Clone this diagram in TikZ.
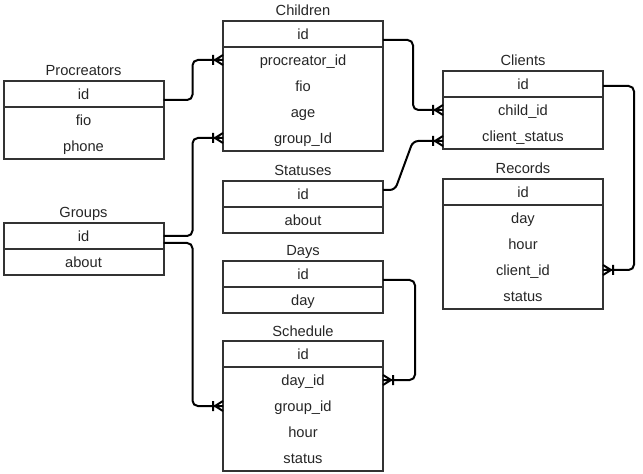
\documentclass[tikz,border=0pt]{standalone}
\usepackage{fontspec}
\setmainfont{Liberation Sans}
\usepackage{tikz}
\usetikzlibrary{arrows.meta,positioning,calc}

% one-or-many end (crow's foot with a bar)
\pgfdeclarearrow{
  name = Crow,
  parameters = {\the\pgfarrowlinewidth},
  setup code = {
    \pgfarrowssettipend{0pt}
    \pgfarrowssetbackend{-7.5pt}
    \pgfarrowssetlineend{-7.5pt}
    \pgfarrowssetvisualbackend{-7.5pt}
    \pgfarrowshullpoint{0pt}{3.75pt}
    \pgfarrowshullpoint{0pt}{-3.75pt}
    \pgfarrowshullpoint{-7.5pt}{3.75pt}
    \pgfarrowshullpoint{-7.5pt}{-3.75pt}
  },
  drawing code = {
    \pgfsetdash{}{0pt}
    \pgfpathmoveto{\pgfqpoint{-7.5pt}{0pt}}
    \pgfpathlineto{\pgfqpoint{0pt}{0pt}}
    \pgfpathmoveto{\pgfqpoint{0pt}{3.75pt}}
    \pgfpathlineto{\pgfqpoint{-6pt}{0pt}}
    \pgfpathlineto{\pgfqpoint{0pt}{-3.75pt}}
    \pgfpathmoveto{\pgfqpoint{-7.5pt}{3.75pt}}
    \pgfpathlineto{\pgfqpoint{-7.5pt}{-3.75pt}}
    \pgfusepathqstroke
  }
}

\definecolor{edge}{HTML}{333333}

\begin{document}
\begin{tikzpicture}[
    x=0.75pt, y=-0.75pt,
    font=\fontsize{11}{13}\selectfont, text=black!85,
    head/.style={draw=edge, line width=1.5pt, minimum width=120pt, minimum height=19.5pt,
      inner sep=0pt, outer sep=0pt, text height=8.5pt, text depth=0pt},
    row/.style={minimum width=120pt, minimum height=19.5pt, inner sep=0pt, outer sep=0pt,
      text height=8.5pt, text depth=0pt},
    tbox/.style={draw=edge, line width=1.5pt},
    title/.style={anchor=base, inner sep=0pt},
    rel/.style={draw=black, line width=1.5pt, rounded corners=4pt, -{Crow}}
  ]
    \useasboundingbox (0,0) rectangle (643,474);

    % Procreators
    \node[head] (proc) at (83.5,94) {id};
    \node[title] (procT) at ([yshift=3.75pt]proc.north) {Procreators};
    \node[row, below=0pt of proc] (proc1) {fio};
    \node[row, below=0pt of proc1] (proc2) {phone};
    \draw[tbox] (proc1.north west) rectangle (proc2.south east);

    % Groups
    \node[head] (grp) at (83.5,236) {id};
    \node[title] (grpT) at ([yshift=3.75pt]grp.north) {Groups};
    \node[row, below=0pt of grp] (grp1) {about};
    \draw[tbox] (grp1.north west) rectangle (grp1.south east);

    % Children
    \node[head] (child) at (303,34) {id};
    \node[title] (childT) at ([yshift=3.75pt]child.north) {Children};
    \node[row, below=0pt of child] (child1) {procreator\_id};
    \node[row, below=0pt of child1] (child2) {fio};
    \node[row, below=0pt of child2] (child3) {age};
    \node[row, below=0pt of child3] (child4) {group\_Id};
    \draw[tbox] (child1.north west) rectangle (child4.south east);

    % Statuses
    \node[head] (stat) at (303,194) {id};
    \node[title] (statT) at ([yshift=3.75pt]stat.north) {Statuses};
    \node[row, below=0pt of stat] (stat1) {about};
    \draw[tbox] (stat1.north west) rectangle (stat1.south east);

    % Days
    \node[head] (day) at (303,274) {id};
    \node[title] (dayT) at ([yshift=3.75pt]day.north) {Days};
    \node[row, below=0pt of day] (day1) {day};
    \draw[tbox] (day1.north west) rectangle (day1.south east);

    % Schedule
    \node[head] (sched) at (303,354) {id};
    \node[title] (schedT) at ([yshift=3.75pt]sched.north) {Schedule};
    \node[row, below=0pt of sched] (sched1) {day\_id};
    \node[row, below=0pt of sched1] (sched2) {group\_id};
    \node[row, below=0pt of sched2] (sched3) {hour};
    \node[row, below=0pt of sched3] (sched4) {status};
    \draw[tbox] (sched1.north west) rectangle (sched4.south east);

    % Clients
    \node[head] (cli) at (523,84) {id};
    \node[title] (cliT) at ([yshift=3.75pt]cli.north) {Clients};
    \node[row, below=0pt of cli] (cli1) {child\_id};
    \node[row, below=0pt of cli1] (cli2) {client\_status};
    \draw[tbox] (cli1.north west) rectangle (cli2.south east);

    % Records
    \node[head] (rec) at (523,192) {id};
    \node[title] (recT) at ([yshift=3.75pt]rec.north) {Records};
    \node[row, below=0pt of rec] (rec1) {day};
    \node[row, below=0pt of rec1] (rec2) {hour};
    \node[row, below=0pt of rec2] (rec3) {client\_id};
    \node[row, below=0pt of rec3] (rec4) {status};
    \draw[tbox] (rec1.north west) rectangle (rec4.south east);

    % relations
    \draw[rel] ([yshift=-4.5pt]proc.east) -- ++(29,0) |- (child1.west);
    \draw[rel] (grp.east) -- ++(29,0) |- (child4.west);
    \draw[rel] ([yshift=-5.25pt]grp.east) -- ++(29,0) |- (sched2.west);
    \draw[rel] ([yshift=-4.5pt]day.east) -- ++(32,0) |- (sched1.east);
    \draw[rel] ([yshift=-4.5pt]child.east) -- ++(30,0) |- (cli1.west);
    \draw[rel] ([yshift=3pt]stat.east) -- ++(12,0)
      -- ([xshift=-22.5pt,yshift=-3.75pt]cli2.west) -- ([yshift=-3.75pt]cli2.west);
    \draw[rel] ([yshift=-1.5pt]cli.east) -- ++(31,0) |- (rec3.east);
  \end{tikzpicture}
\end{document}
